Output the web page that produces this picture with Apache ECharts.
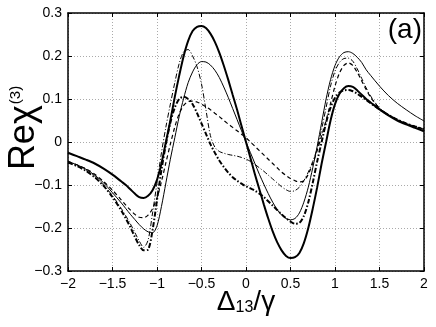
<!DOCTYPE html>
<html>
<head>
<meta charset="utf-8">
<script src="https://cdn.jsdelivr.net/npm/echarts@6/dist/echarts.min.js"></script>
<style>
  html, body { margin: 0; padding: 0; background: #fff; }
  #chart { width: 436px; height: 327px; }
</style>
</head>
<body>
<div id="chart"></div>
<script>
// detuning Δ13/γ sample points
const detuning = [
  -2, -1.9, -1.8, -1.7, -1.6, -1.5, -1.4,
  -1.35, -1.3, -1.25, -1.2, -1.15, -1.1, -1.05, -1.0, -0.95, -0.9, -0.85, -0.8, -0.75, -0.7,
  -0.65, -0.6, -0.55, -0.5, -0.45, -0.4, -0.35, -0.3, -0.25, -0.2, -0.15, -0.1, -0.05,
  0, 0.05, 0.1, 0.15, 0.2, 0.25, 0.3, 0.35, 0.4, 0.45, 0.5, 0.55, 0.6, 0.65,
  0.7, 0.75, 0.8, 0.85, 0.9, 0.95, 1.0, 1.05, 1.1, 1.15, 1.2, 1.25, 1.3, 1.35,
  1.4, 1.5, 1.6, 1.7, 1.8, 1.9, 2.0
];

const thickSolid = [
  -0.025, -0.033, -0.041, -0.05, -0.062, -0.076, -0.092,
  -0.1, -0.11, -0.12, -0.128, -0.13, -0.125, -0.112, -0.088, -0.05, 0.0, 0.05, 0.105, 0.155, 0.2,
  0.235, 0.258, 0.268, 0.27, 0.265, 0.252, 0.233, 0.208, 0.178, 0.145, 0.11, 0.075, 0.037,
  0, -0.037, -0.075, -0.11, -0.145, -0.178, -0.208, -0.233, -0.252, -0.265, -0.27, -0.268, -0.258, -0.235,
  -0.2, -0.155, -0.105, -0.05, 0.0, 0.05, 0.088, 0.112, 0.125, 0.13, 0.128, 0.12, 0.11, 0.1,
  0.092, 0.076, 0.062, 0.05, 0.041, 0.033, 0.025
];

const thinSolid = [
  -0.045, -0.053, -0.063, -0.077, -0.095, -0.118, -0.142,
  -0.155, -0.168, -0.18, -0.192, -0.202, -0.209, -0.211, -0.195, -0.15, -0.095, -0.04, 0.01, 0.06, 0.102,
  0.138, 0.163, 0.18, 0.187, 0.186, 0.179, 0.167, 0.15, 0.128, 0.104, 0.078, 0.052, 0.026,
  0, -0.025, -0.05, -0.075, -0.098, -0.12, -0.14, -0.157, -0.17, -0.178, -0.181, -0.178, -0.165, -0.14,
  -0.105, -0.06, -0.01, 0.045, 0.1, 0.145, 0.178, 0.198, 0.208, 0.21, 0.206, 0.197, 0.185, 0.168,
  0.155, 0.13, 0.108, 0.09, 0.075, 0.061, 0.049
];

const dashed = [
  -0.045, -0.053, -0.062, -0.075, -0.092, -0.112, -0.135,
  -0.147, -0.158, -0.168, -0.175, -0.176, -0.17, -0.155, -0.13, -0.092, -0.048, -0.005, 0.035, 0.066, 0.085,
  0.094, 0.095, 0.093, 0.088, 0.082, 0.075, 0.067, 0.059, 0.05, 0.042, 0.034, 0.026, 0.018,
  0.01, 0.0, -0.01, -0.02, -0.03, -0.04, -0.05, -0.06, -0.07, -0.078, -0.085, -0.09, -0.093, -0.09,
  -0.075, -0.05, -0.02, 0.015, 0.05, 0.09, 0.13, 0.16, 0.178, 0.184, 0.178, 0.162, 0.142, 0.122,
  0.104, 0.078, 0.063, 0.052, 0.043, 0.036, 0.03
];

const dashDot = [
  -0.047, -0.055, -0.066, -0.08, -0.1, -0.125, -0.155,
  -0.172, -0.19, -0.21, -0.23, -0.245, -0.228, -0.165, -0.095, -0.025, 0.035, 0.088, 0.138, 0.183, 0.21,
  0.215, 0.2, 0.175, 0.135, 0.075, 0.015, -0.012, -0.022, -0.026, -0.029, -0.031, -0.033, -0.036,
  -0.04, -0.045, -0.052, -0.06, -0.068, -0.077, -0.086, -0.095, -0.104, -0.111, -0.115, -0.113, -0.105, -0.09,
  -0.07, -0.045, -0.015, 0.03, 0.08, 0.13, 0.165, 0.185, 0.194, 0.195, 0.188, 0.17, 0.148, 0.126,
  0.107, 0.079, 0.064, 0.052, 0.043, 0.036, 0.03
];

const thickDashDot = [
  -0.048, -0.056, -0.067, -0.082, -0.102, -0.128, -0.16,
  -0.178, -0.198, -0.22, -0.24, -0.252, -0.25, -0.205, -0.135, -0.065, -0.005, 0.045, 0.08, 0.1, 0.105,
  0.1, 0.088, 0.067, 0.043, 0.019, -0.005, -0.025, -0.043, -0.058, -0.071, -0.082, -0.09, -0.097,
  -0.103, -0.108, -0.113, -0.12, -0.128, -0.138, -0.148, -0.158, -0.168, -0.177, -0.185, -0.19, -0.188, -0.172,
  -0.14, -0.095, -0.045, 0.0, 0.045, 0.08, 0.103, 0.115, 0.12, 0.121, 0.118, 0.112, 0.105, 0.098,
  0.09, 0.076, 0.063, 0.052, 0.043, 0.036, 0.03
];

const fontFamily = '"Liberation Sans", Arial, sans-serif';

function fmtTick(v) {
  const r = Math.round(v * 10) / 10;
  if (r === 0) return '0';
  return (r < 0 ? '\u2212' : '') + String(Math.abs(r));
}

function pairs(ys) {
  return detuning.map((x, i) => [x, ys[i]]);
}

function makeLine(name, ys, width, dash) {
  return {
    name: name,
    type: 'line',
    data: pairs(ys),
    showSymbol: false,
    smooth: 0.3,
    silent: true,
    lineStyle: { color: '#000', width: width, type: dash }
  };
}

const frameAxis = {
  axisLine: { onZero: false, lineStyle: { color: '#000', width: 1.5 } },
  axisTick: { inside: true, length: 4, lineStyle: { color: '#000' } }
};
const gridLine = { show: true, lineStyle: { color: '#aaa', type: [1, 2], width: 1 } };

const chart = echarts.init(document.getElementById('chart'));

const option = {
  backgroundColor: '#fff',
  animation: false,
  textStyle: { fontFamily: fontFamily },
  grid: { left: 68, right: 12, top: 13, bottom: 56, outerBoundsMode: 'none', containLabel: false },
  xAxis: [
    Object.assign({
      type: 'value', min: -2, max: 2, interval: 0.5, position: 'bottom',
      axisLabel: { color: '#000', fontSize: 14, margin: 6, formatter: fmtTick },
      splitLine: gridLine
    }, frameAxis),
    Object.assign({
      type: 'value', min: -2, max: 2, interval: 0.5, position: 'top',
      axisLabel: { show: false }, splitLine: { show: false }
    }, frameAxis)
  ],
  yAxis: [
    Object.assign({
      type: 'value', min: -0.3, max: 0.3, interval: 0.1, position: 'left',
      axisLabel: { color: '#000', fontSize: 14, margin: 6, formatter: fmtTick },
      splitLine: gridLine
    }, frameAxis),
    Object.assign({
      type: 'value', min: -0.3, max: 0.3, interval: 0.1, position: 'right',
      axisLabel: { show: false }, splitLine: { show: false }
    }, frameAxis)
  ],
  graphic: [
    {
      type: 'text', x: 24, y: 128, rotation: Math.PI / 2,
      style: {
        text: '{b|Re\u03c7}{p|(3)}',
        align: 'center', verticalAlign: 'middle',
        rich: {
          b: { fontSize: 36, fill: '#000', fontFamily: fontFamily },
          p: { fontSize: 15, fill: '#000', fontFamily: fontFamily, padding: [0, 0, 16, 1] }
        }
      }
    },
    {
      type: 'text', x: 246, y: 302,
      style: {
        text: '{d|\u0394}{s|13}{d|/\u03b3}',
        align: 'center', verticalAlign: 'middle',
        rich: {
          d: { fontSize: 28, fill: '#000', fontFamily: fontFamily },
          s: { fontSize: 16, fill: '#000', fontFamily: fontFamily, padding: [12, 0, 0, 0] }
        }
      }
    },
    {
      type: 'text', right: 14, top: 16,
      style: { text: '(a)', font: '28px ' + fontFamily, fill: '#000' }
    }
  ],
  series: [
    makeLine('thick solid', thickSolid, 2, 'solid'),
    makeLine('thin solid', thinSolid, 1, 'solid'),
    makeLine('dashed', dashed, 1.2, [4, 3]),
    makeLine('dash-dot', dashDot, 1, [5, 2, 1, 2]),
    makeLine('thick dash-dot', thickDashDot, 2, [5, 2, 1.5, 2])
  ]
};

chart.setOption(option);
</script>
</body>
</html>
